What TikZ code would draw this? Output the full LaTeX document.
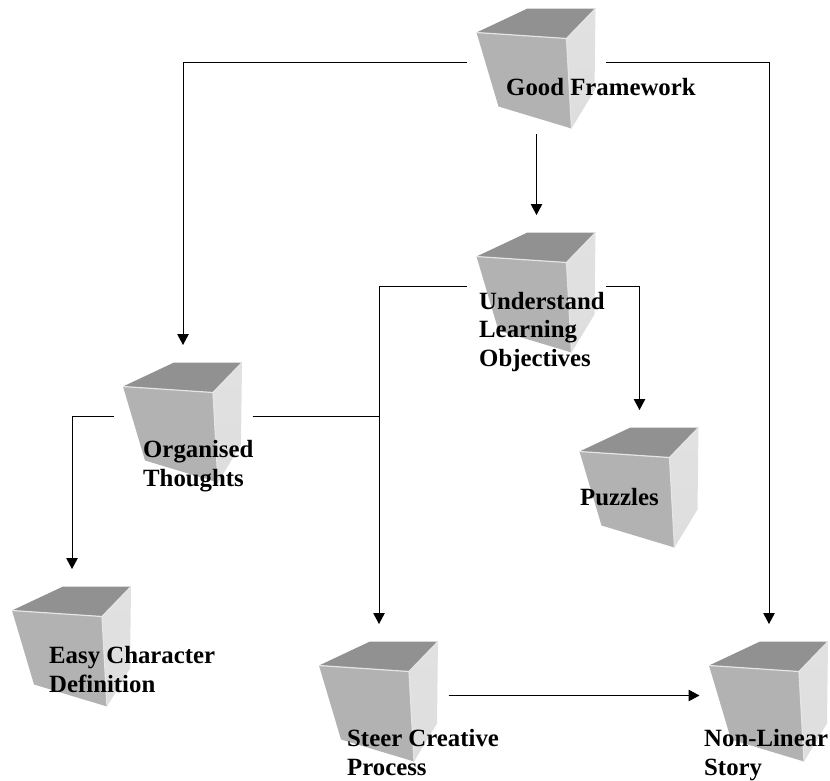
\documentclass[tikz,border=0pt]{standalone}
\usepackage{fontspec}
\setmainfont{Liberation Serif}
\usetikzlibrary{arrows.meta}
\tikzset{
    cubebox/.style={minimum width=139pt, minimum height=143pt, inner sep=0pt, outer sep=0pt},
    cubelabel/.style={anchor=base west, align=left, inner sep=0pt, font=\fontsize{24.8}{28.5}\selectfont\bfseries},
    link/.style={draw=black, line width=1pt},
    linkarrow/.style={link, -{Triangle[length=11pt,width=11.5pt]}}
}
\definecolor{cubetop}{gray}{0.57}
\definecolor{cubefront}{gray}{0.70}
\definecolor{cubeside}{gray}{0.87}
\definecolor{cubeedge}{gray}{0.90}
\newcommand{\cubeshape}[2]{
    \begin{scope}[shift={(#1,#2)}]
        \fill[cubetop] (-60,-30) -- (-9,-54) -- (59,-54) -- (30,-24) -- cycle;
        \fill[cubefront] (-60,-30) -- (30,-24) -- (35,66) -- (-38,44) -- cycle;
        \shade[top color=cubeside!90!white, bottom color=cubeside] (30,-24) -- (59,-54) -- (58,28) -- (35,66) -- cycle;
        \draw[cubeedge, line width=1.2pt] (-60,-30) -- (30,-24) -- (59,-54) (30,-24) -- (35,66);
    \end{scope}
}
\begin{document}
\begin{tikzpicture}[x=1pt, y=-1pt]
    \useasboundingbox (0,0) rectangle (830,780);

    % Cubes
    \foreach \cubename/\x/\y in {good/536.5/62.5, understand/536.5/286.5, organised/183/416.5,
            puzzles/639.5/481.5, easy/72/640.5, steer/379/695.5, story/769/695.5} {
        \node[cubebox] (\cubename) at (\x,\y) {};
        \cubeshape{\x}{\y}
    }

    % Links
    \draw[linkarrow] (good.west) -| (organised.north);
    \draw[linkarrow] (good.east) -| (story.north);
    \draw[linkarrow] (good.south) -- (understand.north);
    \draw[linkarrow] (understand.west) -| (steer.north);
    \draw[linkarrow] (understand.east) -| (puzzles.north);
    \draw[link] (organised.east) -- (organised.east -| steer.north);
    \draw[linkarrow] (organised.west) -| (easy.north);
    \draw[linkarrow] (steer.east) -- (story.west);

    % Labels
    \node[cubelabel] (goodtext) at (506,95) {Good Framework};
    \node[cubelabel] (understandtext) at (479,366) {Understand\\Learning\\Objectives};
    \node[cubelabel] (organisedtext) at (143,486) {Organised\\Thoughts};
    \node[cubelabel] (puzzlestext) at (580,505) {Puzzles};
    \node[cubelabel] (easytext) at (49,692) {Easy Character\\Definition};
    \node[cubelabel] (steertext) at (347,775) {Steer Creative\\Process};
    \node[cubelabel] (storytext) at (704,775) {Non-Linear\\Story};
\end{tikzpicture}
\end{document}
